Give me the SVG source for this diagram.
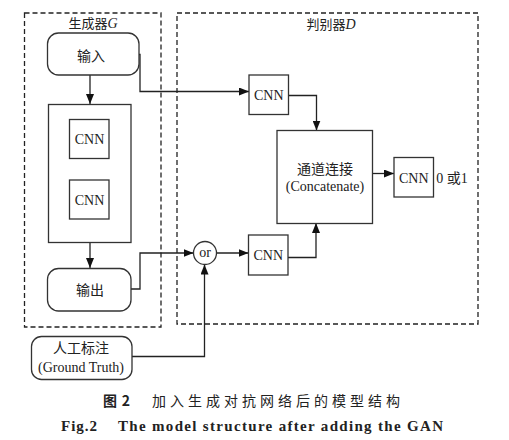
<svg xmlns="http://www.w3.org/2000/svg" width="509" height="440" viewBox="0 0 509 440">
<defs>
<marker id="ah" markerWidth="10" markerHeight="8" refX="10" refY="4" orient="auto" markerUnits="userSpaceOnUse">
<path d="M0,0 L10,4 L0,8 Z" fill="#111"/>
</marker>
<style>
.dash{fill:none;stroke:#222;stroke-width:1.3;stroke-dasharray:5,3}
.box{fill:#fff;stroke:#333;stroke-width:1.3}
.ln{fill:none;stroke:#222;stroke-width:1.3}
.t{font-family:"Liberation Serif","Noto Sans CJK SC",serif;font-size:14px;fill:#222;text-anchor:middle;dominant-baseline:central}
.cjk{font-family:"Liberation Serif","Noto Sans CJK SC",serif;font-size:13px;fill:#222;text-anchor:middle}
.cap{font-family:"Noto Sans CJK SC",sans-serif;font-size:14px;fill:#222}
.ecap{font-family:"Liberation Serif",serif;font-size:15px;font-weight:bold;fill:#222}
</style>
</defs>
<rect width="509" height="440" fill="#fff"/>
<g id="generator">
<rect class="dash" x="24.5" y="13" width="136.5" height="314"/>
<text class="cjk" x="93" y="28">生成器<tspan font-style="italic" font-size="14">G</tspan></text>
</g>
<g id="discriminator">
<rect class="dash" x="177" y="13" width="301" height="311"/>
<text class="cjk" x="331" y="29">判别器<tspan font-style="italic" font-size="14">D</tspan></text>
</g>
<g id="connectors">
<line class="ln" x1="90" y1="75" x2="90" y2="104" marker-end="url(#ah)"/>
<line class="ln" x1="90" y1="242" x2="90" y2="268" marker-end="url(#ah)"/>
<polyline class="ln" points="139,54.5 140,54.5 140,91.5 249,91.5" marker-end="url(#ah)"/>
<polyline class="ln" points="288,95.5 316.5,95.5 316.5,130.5" marker-end="url(#ah)"/>
<line class="ln" x1="372" y1="173.5" x2="394" y2="173.5" marker-end="url(#ah)"/>
<polyline class="ln" points="131,289 140,289 140,253 193.5,253" marker-end="url(#ah)"/>
<line class="ln" x1="216.5" y1="253" x2="248.5" y2="253" marker-end="url(#ah)"/>
<polyline class="ln" points="288,257.5 316,257.5 316,223" marker-end="url(#ah)"/>
<polyline class="ln" points="132,356.5 204.5,356.5 204.5,264.5" marker-end="url(#ah)"/>
</g>
<g id="input">
<rect class="box" x="47.5" y="33" width="91.5" height="42" rx="11"/>
<text class="t" x="91" y="56">输入</text>
</g>
<g id="cnn-stack">
<rect class="box" x="48.5" y="104.5" width="82.5" height="138"/>
</g>
<g id="cnn-g1">
<rect class="box" x="69.5" y="119.5" width="39.5" height="39"/>
<text class="t" x="89.5" y="139.5">CNN</text>
</g>
<g id="cnn-g2">
<rect class="box" x="69.5" y="180" width="39.5" height="39"/>
<text class="t" x="89.5" y="200">CNN</text>
</g>
<g id="output">
<rect class="box" x="47.5" y="268.5" width="83.5" height="42.5" rx="11"/>
<text class="t" x="90" y="290">输出</text>
</g>
<g id="cnn-d1">
<rect class="box" x="249" y="75" width="39.5" height="39.5"/>
<text class="t" x="268.8" y="95">CNN</text>
</g>
<g id="concat">
<rect class="box" x="277" y="130.5" width="95.5" height="93"/>
<text class="t" x="325" y="169">通道连接</text>
<text class="t" x="325" y="186.5">(Concatenate)</text>
</g>
<g id="cnn-d3">
<rect class="box" x="394" y="157.5" width="39.5" height="39.5"/>
<text class="t" x="413.8" y="178">CNN</text>
</g>
<text class="t" x="452" y="178">0 或1</text>
<g id="or">
<circle class="box" cx="205" cy="253" r="11.5"/>
<text class="t" x="205" y="252">or</text>
</g>
<g id="cnn-d2">
<rect class="box" x="248.5" y="235" width="39.5" height="40"/>
<text class="t" x="268.3" y="255.5">CNN</text>
</g>
<g id="ground-truth">
<rect class="box" x="31.5" y="336.5" width="100.5" height="43" rx="10"/>
<text class="t" x="81" y="348.5">人工标注</text>
<text class="t" x="81" y="367">(Ground Truth)</text>
</g>
<text class="cap" x="103" y="406" font-weight="bold" textLength="27" lengthAdjust="spacing">图 2</text>
<text class="cap" x="152" y="406" textLength="248" lengthAdjust="spacing">加入生成对抗网络后的模型结构</text>
<text class="ecap" x="61" y="431" textLength="36" lengthAdjust="spacing">Fig.2</text>
<text class="ecap" x="118" y="431" textLength="325" lengthAdjust="spacing">The model structure after adding the GAN</text>
</svg>
